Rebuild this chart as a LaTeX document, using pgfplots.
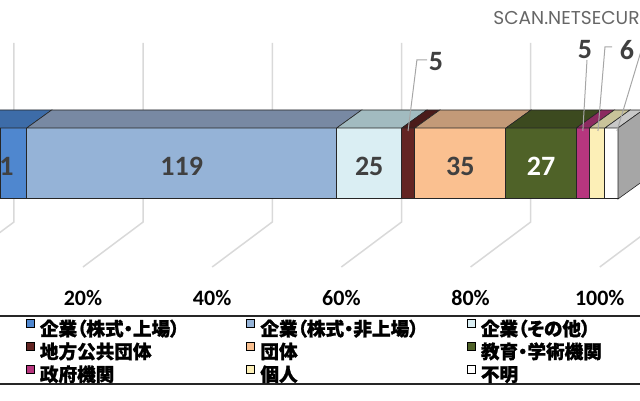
\documentclass[border=0pt]{standalone}
\usepackage{fontspec}
\usepackage{pgfplots}
\pgfplotsset{compat=1.18}
\setmainfont{Carlito}
\newfontfamily\jpfont[RawFeature=+palt, BoldFeatures={FakeBold=1.2}]{Noto Sans CJK JP}
\newfontfamily\wmfont{Poppins}
\definecolor{cA}{HTML}{4F87CF}\definecolor{tA}{HTML}{3D6CA8}
\definecolor{cB}{HTML}{95B3D7}\definecolor{tB}{HTML}{7889A3}
\definecolor{cC}{HTML}{DAEEF3}\definecolor{tC}{HTML}{A2BBC0}
\definecolor{cD}{HTML}{632523}\definecolor{tD}{HTML}{4A1B1A}
\definecolor{cE}{HTML}{FAC090}\definecolor{tE}{HTML}{C39A78}
\definecolor{cF}{HTML}{4F6228}\definecolor{tF}{HTML}{3C4A1F}
\definecolor{cG}{HTML}{B7367E}\definecolor{tG}{HTML}{8C2B60}
\definecolor{cH}{HTML}{FCEFB7}\definecolor{tH}{HTML}{C9C39A}
\definecolor{cI}{HTML}{FFFFFF}\definecolor{tI}{HTML}{C8C8C8}
\definecolor{side}{HTML}{A6A6A6}
\definecolor{edge}{HTML}{262626}
\definecolor{grid}{HTML}{D9D9D9}
\definecolor{lab}{HTML}{404040}
\newcommand{\leg}[1]{\makebox[103.25pt][l]{\rule[-3.1pt]{0pt}{13pt}\jpfont\bfseries #1}}
\pgfplotsset{
  base/.style={scale only axis, width=320pt, height=145pt,
    xmin=10.75, xmax=256.45, ymin=-290, ymax=0,
    axis line style={draw=none}, tick style={draw=none}, major tick length=0pt,
    xtick=\empty, ytick=\empty, clip=false,
    at={(0pt,55pt)}, anchor=south west},
  legimg/.style={legend image code/.code={
    \draw[##1,draw=black,line width=0.5pt] (0pt,-0.1pt) rectangle (4pt,3.9pt);
    \path (6.5pt,1.9pt);}},
  face/.style={draw=edge, line width=0.3pt},
  gl/.style={color=grid, line width=0.75pt, mark=none},
  ld/.style={color=side, line width=0.5pt, mark=none},
}
\begin{document}
\begin{tikzpicture}
\useasboundingbox (0,0) rectangle (320pt,200pt);
\clip (0,0) rectangle (320pt,200pt);
% back gridlines
\begin{axis}[base]
\addplot[gl] coordinates {(16.1,-43) (16.1,-222) (-7.0,-267)};
\addplot[gl] coordinates {(65.7,-43) (65.7,-222) (42.6,-267)};
\addplot[gl] coordinates {(115.3,-43) (115.3,-222) (92.2,-267)};
\addplot[gl] coordinates {(164.9,-43) (164.9,-222) (141.8,-267)};
\addplot[gl] coordinates {(214.5,-43) (214.5,-222) (191.4,-267)};
\addplot[gl] coordinates {(264.1,-43) (264.1,-222) (241.0,-267)};
\end{axis}
% stacked bar (front faces), ticks, legend
\begin{axis}[base, xbar stacked, bar width=71,
  xtick={42.6,92.2,141.8,191.4,241.0},
  xticklabels={20\%,40\%,60\%,80\%,100\%},
  xticklabel style={anchor=north, inner sep=0pt, text=black,
    font=\bfseries\fontsize{11pt}{13pt}\selectfont},
  legend columns=3, legend cell align=left,
  legend style={at={(-0.0234,-0.0862)}, anchor=north west,
    draw=edge, line width=0.9pt, inner xsep=20pt, inner ysep=0pt,
    column sep=0pt, row sep=0pt, nodes={inner sep=0pt},
    font=\fontsize{9.3pt}{11pt}\selectfont}]
\addplot[fill=cA, draw=edge, line width=0.5pt, legimg] coordinates {(21,-163.5)};
\addlegendentry{\leg{企業（株式・上場）}}
\addplot[fill=cB, draw=edge, line width=0.5pt, legimg] coordinates {(119,-163.5)};
\addlegendentry{\leg{企業（株式・非上場）}}
\addplot[fill=cC, draw=edge, line width=0.5pt, legimg] coordinates {(25,-163.5)};
\addlegendentry{\leg{企業（その他）}}
\addplot[fill=cD, draw=edge, line width=0.5pt, legimg] coordinates {(5,-163.5)};
\addlegendentry{\leg{地方公共団体}}
\addplot[fill=cE, draw=edge, line width=0.5pt, legimg] coordinates {(35,-163.5)};
\addlegendentry{\leg{団体}}
\addplot[fill=cF, draw=edge, line width=0.5pt, legimg] coordinates {(27,-163.5)};
\addlegendentry{\leg{教育・学術機関}}
\addplot[fill=cG, draw=edge, line width=0.5pt, legimg] coordinates {(5,-163.5)};
\addlegendentry{\leg{政府機関}}
\addplot[fill=cH, draw=edge, line width=0.5pt, legimg] coordinates {(6,-163.5)};
\addlegendentry{\leg{個人}}
\addplot[fill=cI, draw=edge, line width=0.5pt, legimg] coordinates {(5,-163.5)};
\addlegendentry{\leg{不明}}
\end{axis}
% 3-D top faces, end face, labels, leader lines
\begin{axis}[base]
\addplot[face, fill=tA] coordinates {(0,-128) (21,-128) (30.6,-110) (9.6,-110) (0,-128)};
\addplot[face, fill=tB] coordinates {(21,-128) (140,-128) (149.6,-110) (30.6,-110) (21,-128)};
\addplot[face, fill=tC] coordinates {(140,-128) (165,-128) (174.6,-110) (149.6,-110) (140,-128)};
\addplot[face, fill=tD] coordinates {(165,-128) (170,-128) (179.6,-110) (174.6,-110) (165,-128)};
\addplot[face, fill=tE] coordinates {(170,-128) (205,-128) (214.6,-110) (179.6,-110) (170,-128)};
\addplot[face, fill=tF] coordinates {(205,-128) (232,-128) (241.6,-110) (214.6,-110) (205,-128)};
\addplot[face, fill=tG] coordinates {(232,-128) (237,-128) (246.6,-110) (241.6,-110) (232,-128)};
\addplot[face, fill=tH] coordinates {(237,-128) (243,-128) (252.6,-110) (246.6,-110) (237,-128)};
\addplot[face, fill=tI] coordinates {(243,-128) (248,-128) (257.6,-110) (252.6,-110) (243,-128)};
\addplot[face, fill=side] coordinates {(248,-128) (257.6,-110) (257.6,-181) (248,-199) (248,-128)};
% leader lines
\addplot[ld] coordinates {(167.4,-131) (170.8,-60) (174.7,-60)};
\addplot[ld] coordinates {(234.5,-131) (236.1,-60)};
\addplot[ld] coordinates {(240.3,-131) (243.0,-47) (245.7,-47)};
\addplot[ld] coordinates {(247.6,-131) (257.2,-48) (262,-48)};
% labels
\addplot[draw=none, mark=none, nodes near coords, point meta=explicit symbolic,
  every node near coord/.append style={anchor=center, inner sep=0pt, text=lab,
    font=\bfseries\fontsize{14pt}{16pt}\selectfont}]
  coordinates {(10.5,-166) [21] (80.5,-166) [119] (152.5,-166) [25] (187.5,-166) [35]
               (178.1,-62) [5] (235.3,-50) [5] (251.4,-50) [6]};
\addplot[draw=none, mark=none, nodes near coords, point meta=explicit symbolic,
  every node near coord/.append style={anchor=center, inner sep=0pt, text=white,
    font=\bfseries\fontsize{14pt}{16pt}\selectfont}]
  coordinates {(218.5,-166) [27]};
\end{axis}
\node[anchor=west, inner sep=0pt, text=black!60, font=\wmfont\fontsize{9.3pt}{11pt}\selectfont]
  at (246.5pt,191pt) {SCAN.NETSECURITY};
\end{tikzpicture}
\end{document}
